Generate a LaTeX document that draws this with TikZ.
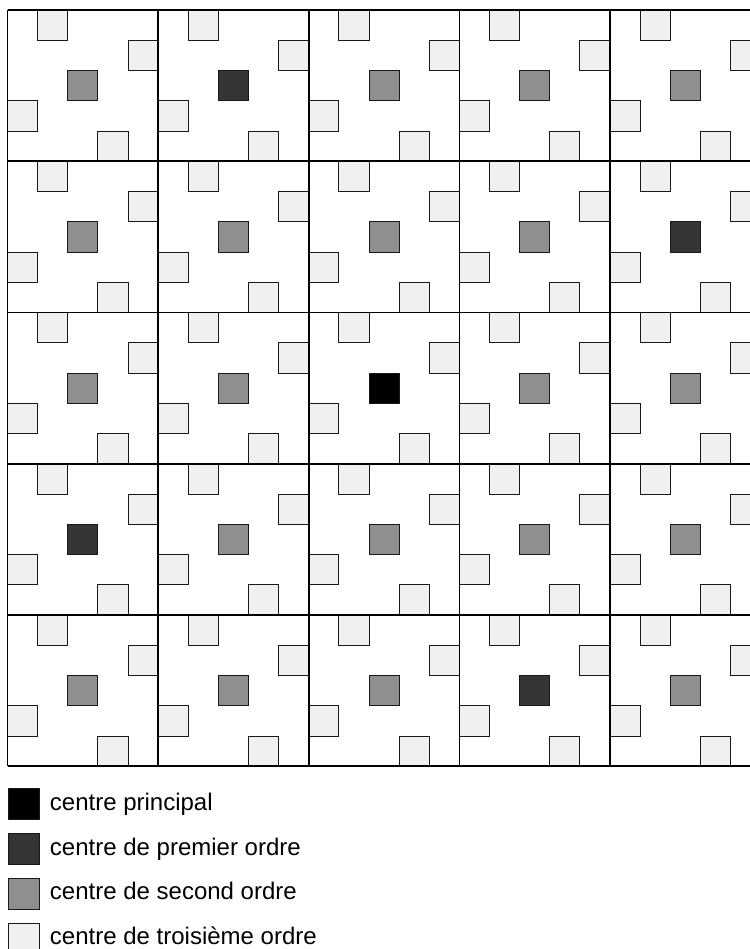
\documentclass[tikz,border=0pt]{standalone}
\usepackage{fontspec}
\setmainfont{Liberation Sans}
\usetikzlibrary{positioning}

\definecolor{rangA}{gray}{0}
\definecolor{rangB}{HTML}{353535}
\definecolor{rangC}{HTML}{8F8F8F}
\definecolor{rangD}{HTML}{F0F0F0}

\begin{document}
\begin{tikzpicture}[x=30.12pt, y=-30.25pt, line join=miter,
  petit/.style={draw=black!90, line width=0.9pt},
  carre/.style={petit, minimum width=30.5pt, minimum height=30.5pt, inner sep=0pt},
  legende/.style={anchor=base west, inner sep=0pt, font=\fontsize{24}{27}\selectfont}]

  \useasboundingbox (-0.249,-0.331) rectangle (24.65,31.04);

  %--------------------------
  % Cells: third and second order centres
  %--------------------------
  \foreach \i in {0,...,4}
    \foreach \j in {0,...,4} {
      \begin{scope}[shift={(5*\i,5*\j)}]
        \foreach \a/\b in {1/0,4/1,0/3,3/4}
          \draw[petit, fill=rangD] (\a,\b) rectangle ++(1,1);
        \draw[petit, fill=rangC] (2,2) rectangle ++(1,1);
      \end{scope}
    }

  % first order centres
  \foreach \i/\j in {1/0,4/1,0/3,3/4}
    \draw[petit, fill=rangB] (5*\i+2,5*\j+2) rectangle ++(1,1);

  % principal centre
  \draw[petit, fill=rangA] (12,12) rectangle ++(1,1);

  %--------------------------
  % Grid
  %--------------------------
  \foreach \k in {0,5,...,25} {
    \draw[line width=1.6pt] (\k,0) -- (\k,25);
    \draw[line width=1.6pt] (0,\k) -- (25,\k);
  }

  %--------------------------
  % Legend
  %--------------------------
  \node[carre, fill=rangA] (carreA) at (0.55,26.25) {};
  \node[carre, fill=rangB, below=13.5pt of carreA] (carreB) {};
  \node[carre, fill=rangC, below=13.5pt of carreB] (carreC) {};
  \node[carre, fill=rangD, below=13.5pt of carreC] (carreD) {};

  \node[legende] (texteA) at ([xshift=10pt, yshift=-6pt]carreA.east) {centre principal};
  \node[legende] (texteB) at ([xshift=10pt, yshift=-6pt]carreB.east) {centre de premier ordre};
  \node[legende] (texteC) at ([xshift=10pt, yshift=-6pt]carreC.east) {centre de second ordre};
  \node[legende] (texteD) at ([xshift=10pt, yshift=-6pt]carreD.east) {centre de troisième ordre};

\end{tikzpicture}
\end{document}
